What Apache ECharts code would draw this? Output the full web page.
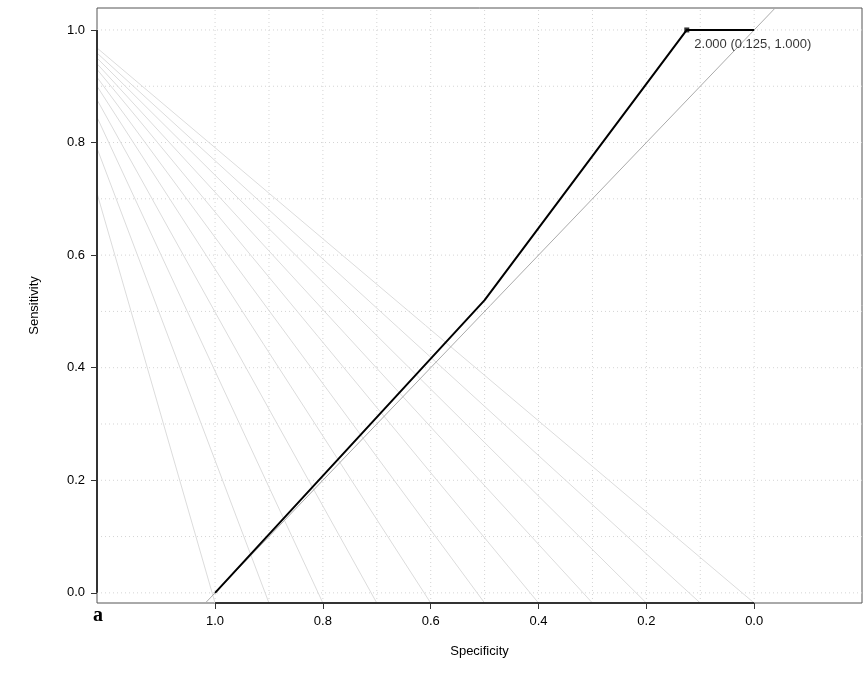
<!DOCTYPE html>
<html><head><meta charset="utf-8">
<script src="https://cdn.jsdelivr.net/npm/echarts@6/dist/echarts.min.js"></script>
<style>html,body{margin:0;padding:0;background:#fff}#c{width:864px;height:693px}</style>
</head><body><div id="c"></div>
<script>
var rocSpec = [1.0, 0.5, 0.125, 0.0];
var rocSens = [0.0, 0.52, 1.0, 1.0];
var bestPoint = [0.125, 1.0];
var bestLabel = '2.000 (0.125, 1.000)';
var fanStart = [1.0,0.9,0.8,0.7,0.6,0.5,0.4,0.3,0.2,0.1,0.0];
var fanLeftSens = [0.71,0.79,0.845,0.876,0.90,0.916,0.93,0.94,0.95,0.959,0.968];
var tickVals = [0,0.2,0.4,0.6,0.8,1.0];
var gridVals = [0,0.1,0.2,0.3,0.4,0.5,0.6,0.7,0.8,0.9,1.0];
var XMIN=-0.2, XMAX=1.219, YMIN=-0.018, YMAX=1.039;

var series=[];
gridVals.forEach(function(v){
  series.push({type:'line',silent:true,symbol:'none',data:[[v,YMIN],[v,YMAX]],lineStyle:{color:'#d4d4d4',width:1,type:[1,3]},z:1});
  series.push({type:'line',silent:true,symbol:'none',data:[[XMIN,v],[XMAX,v]],lineStyle:{color:'#d4d4d4',width:1,type:[1,3]},z:1});
});
fanStart.forEach(function(s,i){
  series.push({type:'line',silent:true,symbol:'none',data:[[s,YMIN],[XMAX,fanLeftSens[i]]],lineStyle:{color:'#dcdcdc',width:1},z:2});
});
series.push({type:'line',silent:true,symbol:'none',data:[[1-YMIN,YMIN],[1-YMAX,YMAX]],lineStyle:{color:'#aaaaaa',width:1},z:3});
series.push({type:'line',silent:true,symbol:'none',data:[[0,YMIN],[1,YMIN]],lineStyle:{color:'#333',width:2},z:4});
series.push({type:'line',silent:true,symbol:'none',data:[[XMAX,0],[XMAX,1]],lineStyle:{color:'#333',width:2},z:4});
series.push({type:'line',silent:true,symbol:'none',data:rocSpec.map(function(s,i){return [s,rocSens[i]];}),lineStyle:{color:'#000',width:2},z:5});
series.push({type:'scatter',silent:true,symbol:'rect',symbolSize:5,itemStyle:{color:'#000'},data:[bestPoint],
  label:{show:true,position:'right',offset:[0,14],formatter:bestLabel,color:'#000',fontSize:13,fontFamily:'Liberation Sans'},z:6});

var chart=echarts.init(document.getElementById('c'));
chart.setOption({
  animation:false,
  grid:{left:97,right:2,top:8,bottom:90,show:true,borderColor:'#555',borderWidth:1,backgroundColor:'transparent'},
  xAxis:{type:'value',inverse:true,min:XMIN,max:XMAX,interval:0.2,position:'bottom',
    name:'Specificity',nameLocation:'middle',nameGap:42,nameTextStyle:{color:'#000',fontSize:13,fontFamily:'Liberation Sans'},
    axisLine:{show:false,onZero:false},splitLine:{show:false},
    axisTick:{show:true,customValues:tickVals,length:6,lineStyle:{color:'#333'}},
    axisLabel:{customValues:tickVals,color:'#000',fontSize:13,fontFamily:'Liberation Sans',margin:12,formatter:function(v){return v.toFixed(1);}}},
  yAxis:{type:'value',min:YMIN,max:YMAX,position:'left',
    name:'Sensitivity',nameLocation:'middle',nameGap:56,nameTextStyle:{color:'#000',fontSize:13,fontFamily:'Liberation Sans'},
    axisLine:{show:false,onZero:false},splitLine:{show:false},
    axisTick:{show:true,customValues:tickVals,length:6,lineStyle:{color:'#333'}},
    axisLabel:{customValues:tickVals,color:'#000',fontSize:13,fontFamily:'Liberation Sans',margin:12,formatter:function(v){return v.toFixed(1);}}},
  graphic:[{type:'text',left:93,top:606,style:{text:'a',font:'bold 20px "Liberation Serif"',fill:'#000'}}],
  series:series
});
</script></body></html>
